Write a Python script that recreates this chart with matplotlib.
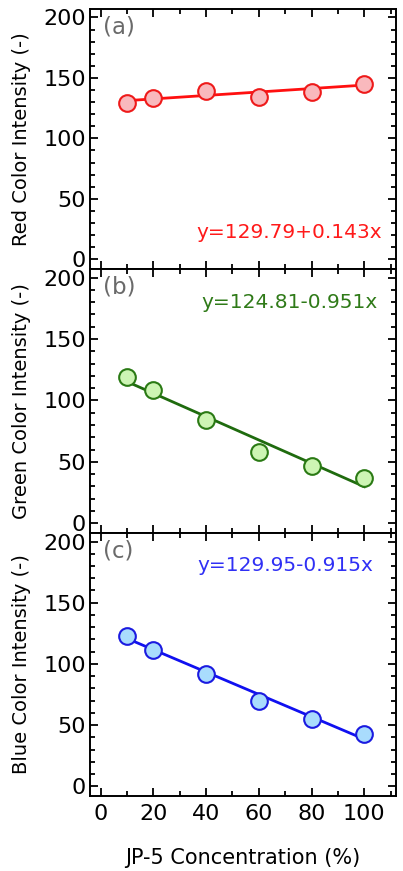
import matplotlib
matplotlib.use("Agg")
import matplotlib.pyplot as plt
from matplotlib.ticker import MultipleLocator
import numpy as np

plt.rcParams['font.family'] = ['DejaVu Sans']

# Data
conc = [10, 20, 40, 60, 80, 100]
red = [129, 133, 139, 134.5, 138.6, 145]
green = [118.8, 108.6, 84, 58.3, 46.9, 37]
blue = [123, 111.7, 91.7, 69.4, 54.7, 42.8]
fits = [(129.79, 0.143), (124.81, -0.951), (129.95, -0.915)]
eq_texts = ["y=129.79+0.143x", "y=124.81-0.951x", "y=129.95-0.915x"]
panel_labels = ["(a)", "(b)", "(c)"]
ylabels = ["Red Color Intensity (-)", "Green Color Intensity (-)", "Blue Color Intensity (-)"]
xlabel = "JP-5 Concentration (%)"

series = [red, green, blue]
line_colors = ["#ff1010", "#1f6b0e", "#1010f0"]
face_colors = ["#f9b9bd", "#cdf5b4", "#a9dcfd"]
edge_colors = ["#ee1a1a", "#2a7a14", "#1a1ae0"]
text_colors = ["#ff1a1a", "#2f7a18", "#3030f5"]
eq_pos = [(0.954, 0.14), (0.941, 0.875), (0.925, 0.878)]

W, H = 403, 871
fig = plt.figure(figsize=(W / 100, H / 100), dpi=100)

left, right = 90, 396
tops = [9, 269, 533]
bots = [269, 533, 796]

for i in range(3):
    ax = fig.add_axes([left / W, 1 - bots[i] / H, (right - left) / W, (bots[i] - tops[i]) / H])
    a, b = fits[i]
    xf = np.array([conc[0], conc[-1]])
    ax.plot(xf, a + b * xf, color=line_colors[i], lw=2.0, zorder=2)
    ax.plot(conc, series[i], 'o', ms=12, mfc=face_colors[i], mec=edge_colors[i], mew=1.5, zorder=3)
    ax.set_xlim(-4, 112)
    ax.set_ylim(-8, 207)
    ax.xaxis.set_major_locator(MultipleLocator(20))
    ax.xaxis.set_minor_locator(MultipleLocator(10))
    ax.yaxis.set_major_locator(MultipleLocator(50))
    ax.yaxis.set_minor_locator(MultipleLocator(10))
    ax.tick_params(which='both', direction='in', top=True, right=True, width=1.3)
    ax.tick_params(which='major', length=6, labelsize=16)
    ax.tick_params(axis='y', which='major', pad=3)
    ax.tick_params(axis='x', which='major', pad=6)
    ax.tick_params(which='minor', length=3.5)
    for s in ax.spines.values():
        s.set_linewidth(1.4)
    if i < 2:
        ax.tick_params(labelbottom=False)
    else:
        ax.set_xlabel(xlabel, fontsize=15, labelpad=17)
    ax.set_ylabel(ylabels[i], fontsize=14, labelpad=8.5)
    ax.text(0.042, 0.93, panel_labels[i], transform=ax.transAxes, fontsize=16.5,
            color="#6a6a6a", ha='left', va='center')
    ex, ey = eq_pos[i]
    ax.text(ex, ey, eq_texts[i], transform=ax.transAxes, fontsize=14.5,
            color=text_colors[i], ha='right', va='center')

fig.savefig("out.png", dpi=100)
